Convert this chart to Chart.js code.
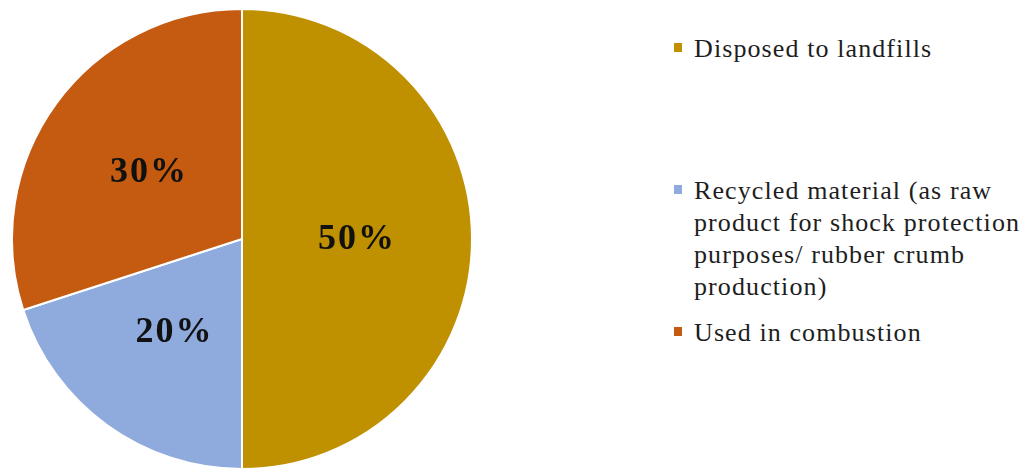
<!DOCTYPE html>
<html lang="en">
<head>
<meta charset="UTF-8" />
<title>Tyre waste disposal</title>
<style>
  * { box-sizing: border-box; }
  body {
    margin: 0;
    width: 1029px;
    height: 468px;
    background: #fff;
    position: relative;
    overflow: hidden;
    font-family: 'Liberation Serif', 'Times New Roman', serif;
  }
  #pie-wrap {
    position: absolute;
    left: 11px;
    top: 8px;
    width: 462px;
    height: 462px;
  }
  .legend-item {
    position: absolute;
    left: 694px;
    font-family: 'Liberation Serif', 'Times New Roman', serif;
    font-size: 26px;
    letter-spacing: 1.1px;
    line-height: 32px;
    color: #1e1e1e;
    white-space: nowrap;
  }
  .legend-item .box {
    position: absolute;
    left: -20px;
    top: 10px;
    width: 8px;
    height: 9px;
  }
</style>
</head>
<body>
  <div id="pie-wrap"><canvas id="pieChart"></canvas></div>
  <div id="legend"></div>

<script src="https://cdn.jsdelivr.net/npm/chart.js"></script>
<script>
  // data
  const categories = [
    ['Disposed to landfills'],
    ['Recycled material (as raw', 'product for shock protection', 'purposes/ rubber crumb', 'production)'],
    ['Used in combustion']
  ];
  const shares = [50, 20, 30];
  const sliceColors = ['#BF9000', '#8FAADC', '#C55A11'];

  // legend rows (top of each text block)
  const legendTops = [33, 175, 317];

  const legendEl = document.getElementById('legend');
  categories.forEach((lines, i) => {
    const item = document.createElement('div');
    item.className = 'legend-item';
    item.style.top = legendTops[i] + 'px';
    item.innerHTML = '<span class="box" style="background:' + sliceColors[i] + '"></span>' + lines.join('<br>');
    legendEl.appendChild(item);
  });

  // percent labels drawn in the middle of each slice
  const percentLabels = {
    id: 'percentLabels',
    afterDatasetsDraw(chart) {
      const ctx = chart.ctx;
      const meta = chart.getDatasetMeta(0);
      ctx.save();
      ctx.font = 'bold 36px "Liberation Serif", "Times New Roman", serif';
      ctx.letterSpacing = '2px';
      ctx.fillStyle = '#111';
      ctx.textAlign = 'center';
      ctx.textBaseline = 'middle';
      meta.data.forEach((arc, i) => {
        const p = arc.tooltipPosition();
        ctx.fillText(shares[i] + '%', p.x, p.y + 1);
      });
      ctx.restore();
    }
  };

  const ctx = document.getElementById('pieChart').getContext('2d');
  new Chart(ctx, {
    type: 'pie',
    data: {
      labels: categories,
      datasets: [{
        data: shares,
        backgroundColor: sliceColors,
        borderColor: '#ffffff',
        borderWidth: 2
      }]
    },
    options: {
      responsive: true,
      maintainAspectRatio: false,
      animation: false,
      layout: { padding: 0 },
      plugins: {
        legend: { display: false },
        tooltip: { enabled: false }
      }
    },
    plugins: [percentLabels]
  });
</script>
</body>
</html>
